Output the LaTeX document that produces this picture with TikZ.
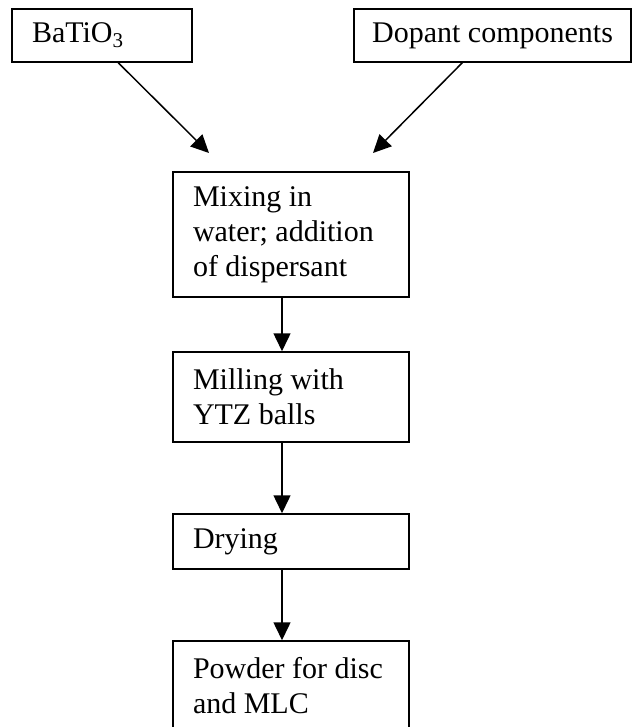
\documentclass[tikz,border=0pt]{standalone}
\usepackage{fontspec}
\setmainfont{Liberation Serif}
\usetikzlibrary{arrows.meta,calc}
\begin{document}
\begin{tikzpicture}[x=1pt,y=-1pt,
  box/.style={draw=black,line width=1.5pt,inner xsep=20pt,inner ysep=0pt,
    align=flush left,font=\fontsize{30}{35}\selectfont},
  arr/.style={draw=black,line width=1.5pt,-{Triangle[length=18pt,width=17pt]}}]
\useasboundingbox[fill=white] (0,0) rectangle (633,727);
\node[box,text width=140pt,minimum height=53pt] (bt) at (102,35.5) {BaTiO\textsubscript{3}};
\node[box,inner xsep=0pt,minimum width=277pt,minimum height=53pt] (dp) at (492.5,35.5) {Dopant components};
\node[box,text width=196pt,minimum height=125pt] (mix) at (291,234.5) {Mixing in\\water; addition\\of dispersant};
\node[box,text width=196pt,minimum height=90pt] (mill) at (291,397) {Milling with\\YTZ balls};
\node[box,text width=196pt,minimum height=55pt] (dry) at (291,541.5) {Drying};
\node[box,text width=196pt,minimum height=89pt] (pow) at (291,685.5) {Powder for disc\\and MLC};
\coordinate (t1) at (209,153);
\coordinate (t2) at (373,153);
\coordinate (xa) at (282,0);
\draw[arr] ($(bt.south west)+(107,0)$) -- (t1);
\draw[arr] ($(dp.south west)+(109,0)$) -- (t2);
\draw[arr] (mix.south -| xa) -- (mill.north -| xa);
\draw[arr] (mill.south -| xa) -- (dry.north -| xa);
\draw[arr] (dry.south -| xa) -- (pow.north -| xa);
\end{tikzpicture}
\end{document}
